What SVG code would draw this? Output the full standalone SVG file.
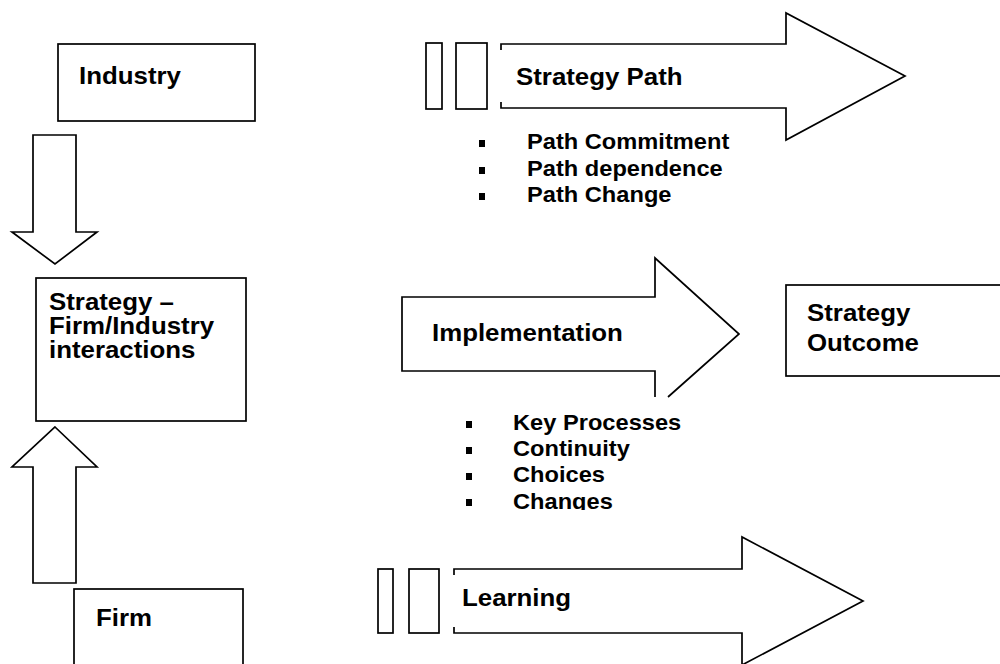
<svg xmlns="http://www.w3.org/2000/svg" width="1000" height="664" viewBox="0 0 1000 664">
<style>
.box{fill:#fff;stroke:#000;stroke-width:1.7}
.fillw{fill:#fff;stroke:none}
.ln{fill:none;stroke:#000;stroke-width:1.7;stroke-linejoin:miter}
.t{font-family:"Liberation Sans",Arial,sans-serif;font-weight:bold;font-size:23.5px;fill:#000}
.b{font-family:"Liberation Sans",Arial,sans-serif;font-weight:bold;font-size:22px;fill:#000}
.sq{fill:#000}
</style>
<defs>
<clipPath id="clipImpl"><rect x="440" y="400" width="300" height="110"/></clipPath>
</defs>
<rect width="1000" height="664" fill="#fff"/>
<g id="connectors">
<path class="box" d="M33,135 H76 V232 H97 L55,264 L12,232 H33 Z"/>
<path class="box" d="M55,427 L97,467 H76 V583 H33 V467 H12 Z"/>
</g>
<g id="industry">
<rect class="box" x="58" y="44" width="197" height="77"/>
<text class="t" transform="translate(79,84) scale(1.1,1)">Industry</text>
</g>
<g id="strategy-interactions">
<rect class="box" x="36" y="278" width="210" height="143"/>
<text class="t" transform="translate(49,310) scale(1.1,1)">Strategy –</text>
<text class="t" transform="translate(49,334) scale(1.1,1)">Firm/Industry</text>
<text class="t" transform="translate(49,358) scale(1.1,1)">interactions</text>
</g>
<g id="firm">
<rect class="box" x="74" y="589" width="169" height="100"/>
<text class="t" transform="translate(96,626) scale(1.1,1)">Firm</text>
</g>
<g id="strategy-outcome">
<rect class="box" x="786" y="285" width="240" height="91"/>
<text class="t" transform="translate(807,321) scale(1.1,1)">Strategy</text>
<text class="t" transform="translate(807,351) scale(1.1,1)">Outcome</text>
</g>
<g id="strategy-path">
<rect class="box" x="426" y="43" width="16" height="66"/>
<rect class="box" x="456" y="43" width="31" height="66"/>
<path class="fillw" d="M501,44 H786 V13 L905,76 L786,140 V108 H501 Z"/>
<path class="ln" d="M501,50 V44 H786 V13 L905,76 L786,140 V108 H501 V102"/>
<text class="t" transform="translate(516,85) scale(1.1,1)">Strategy Path</text>
<rect class="sq" x="479" y="140" width="6" height="7"/>
<rect class="sq" x="479" y="167" width="6" height="7"/>
<rect class="sq" x="479" y="193" width="6" height="7"/>
<text class="b" transform="translate(527,149) scale(1.075,1)">Path Commitment</text>
<text class="b" transform="translate(527,176) scale(1.075,1)">Path dependence</text>
<text class="b" transform="translate(527,202) scale(1.075,1)">Path Change</text>
</g>
<g id="implementation">
<path class="fillw" d="M402,297 H655 V258 L739,334 L668,397 H655 V371 H402 Z"/>
<path class="ln" d="M655,397 V371 H402 V297 H655 V258 L739,334 L668,397"/>
<text class="t" transform="translate(432,341) scale(1.1,1)">Implementation</text>
<g clip-path="url(#clipImpl)">
<rect class="sq" x="466" y="421" width="6" height="7"/>
<rect class="sq" x="466" y="447" width="6" height="7"/>
<rect class="sq" x="466" y="473" width="6" height="7"/>
<rect class="sq" x="466" y="499" width="6" height="7"/>
<text class="b" transform="translate(513,430) scale(1.075,1)">Key Processes</text>
<text class="b" transform="translate(513,456) scale(1.075,1)">Continuity</text>
<text class="b" transform="translate(513,482) scale(1.075,1)">Choices</text>
<text class="b" transform="translate(513,509) scale(1.075,1)">Changes</text>
</g>
</g>
<g id="learning">
<rect class="box" x="378" y="569" width="15" height="64"/>
<rect class="box" x="409" y="569" width="30" height="64"/>
<path class="fillw" d="M454,569 H742 V537 L863,601 L742,665 V633 H454 Z"/>
<path class="ln" d="M454,575 V569 H742 V537 L863,601 L742,665 V633 H454 V627"/>
<text class="t" transform="translate(462,606) scale(1.1,1)">Learning</text>
</g>
</svg>
